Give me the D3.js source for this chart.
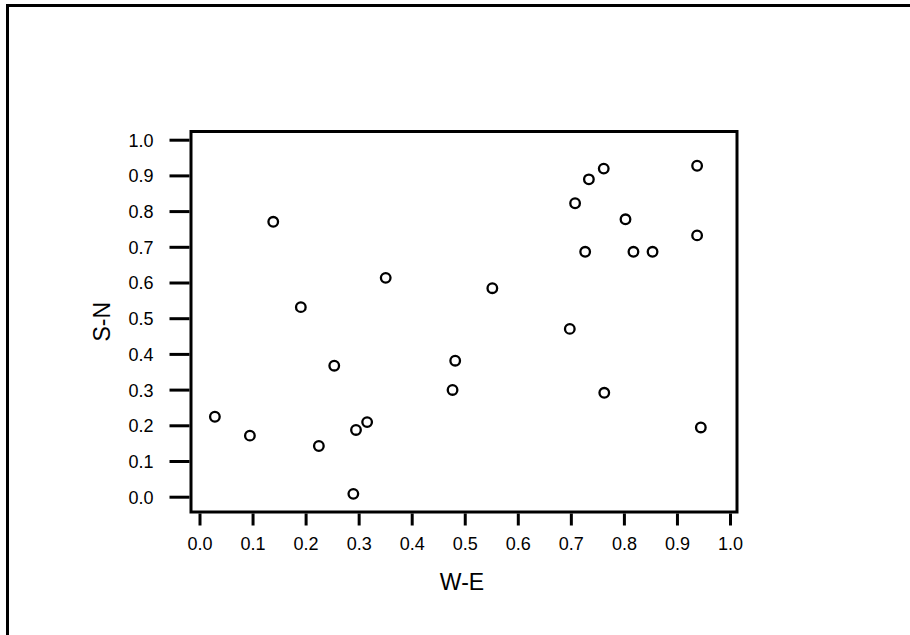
<!DOCTYPE html>
<html>
<head>
<meta charset="utf-8">
<script src="https://cdn.jsdelivr.net/npm/d3@7"></script>
<style>
  html, body { margin: 0; padding: 0; background: #fff; }
  svg { display: block; }
  text { font-family: "Liberation Sans", Arial, sans-serif; fill: #000; }
</style>
</head>
<body>
<svg id="chart" width="910" height="635"></svg>
<script>
// Data
const weValues = [0.029, 0.095, 0.139, 0.191, 0.225, 0.254, 0.290, 0.295, 0.316, 0.351,
                  0.477, 0.482, 0.552, 0.698, 0.708, 0.727, 0.734, 0.762, 0.763, 0.803,
                  0.818, 0.854, 0.938, 0.938, 0.945];
const snValues = [0.224, 0.171, 0.770, 0.531, 0.142, 0.367, 0.008, 0.187, 0.209, 0.613,
                  0.299, 0.381, 0.584, 0.470, 0.822, 0.686, 0.889, 0.919, 0.291, 0.777,
                  0.686, 0.686, 0.927, 0.732, 0.194];
const xTicks = [0.0, 0.1, 0.2, 0.3, 0.4, 0.5, 0.6, 0.7, 0.8, 0.9, 1.0];
const yTicks = [0.0, 0.1, 0.2, 0.3, 0.4, 0.5, 0.6, 0.7, 0.8, 0.9, 1.0];
const xTitle = "W-E";
const yTitle = "S-N";

const svg = d3.select("#chart");

// outer frame
svg.append("rect")
  .attr("x", 7.5).attr("y", 5.5)
  .attr("width", 1200).attr("height", 1200)
  .attr("fill", "none").attr("stroke", "#000").attr("stroke-width", 3);

// plot box
const box = { left: 191, top: 131.5, right: 737, bottom: 512 };

const x = d3.scaleLinear().domain([0, 1]).range([199.5, 730]);
const y = d3.scaleLinear().domain([0, 1]).range([496.7, 139.7]);

svg.append("rect")
  .attr("x", box.left).attr("y", box.top)
  .attr("width", box.right - box.left).attr("height", box.bottom - box.top)
  .attr("fill", "none").attr("stroke", "#000").attr("stroke-width", 3);

// x axis
const xAxis = d3.axisBottom(x).tickValues(xTicks).tickFormat(d3.format(".1f"))
  .tickSize(12).tickPadding(12);
const gx = svg.append("g").attr("transform", `translate(0,${box.bottom + 1.5})`).call(xAxis);
gx.select(".domain").remove();
gx.selectAll(".tick line").attr("stroke", "#000").attr("stroke-width", 3);
gx.selectAll(".tick text").attr("font-size", 18).attr("font-family", '"Liberation Sans", Arial, sans-serif')
  .attr("fill", "#111").attr("dy", null).attr("y", 36);

// y axis
const yAxis = d3.axisLeft(y).tickValues(yTicks).tickFormat(d3.format(".1f"))
  .tickSize(20).tickPadding(16);
const gy = svg.append("g").attr("transform", `translate(${box.left - 1.5},0)`).call(yAxis);
gy.select(".domain").remove();
gy.selectAll(".tick line").attr("stroke", "#000").attr("stroke-width", 3);
gy.selectAll(".tick text").attr("font-size", 18).attr("font-family", '"Liberation Sans", Arial, sans-serif')
  .attr("fill", "#111").attr("dy", "0.36em");

// axis titles
svg.append("text")
  .attr("x", (box.left + box.right) / 2 - 2).attr("y", 590)
  .attr("text-anchor", "middle").attr("font-size", 23)
  .text(xTitle);

svg.append("text")
  .attr("transform", `translate(110,${(box.top + box.bottom) / 2}) rotate(-90)`)
  .attr("text-anchor", "middle").attr("font-size", 23)
  .text(yTitle);

// points
svg.append("g").selectAll("circle")
  .data(weValues.map((v, i) => [v, snValues[i]]))
  .join("circle")
  .attr("cx", d => x(d[0]))
  .attr("cy", d => y(d[1]))
  .attr("r", 4.8)
  .attr("fill", "#fff")
  .attr("stroke", "#000")
  .attr("stroke-width", 2.3);
</script>
</body>
</html>
